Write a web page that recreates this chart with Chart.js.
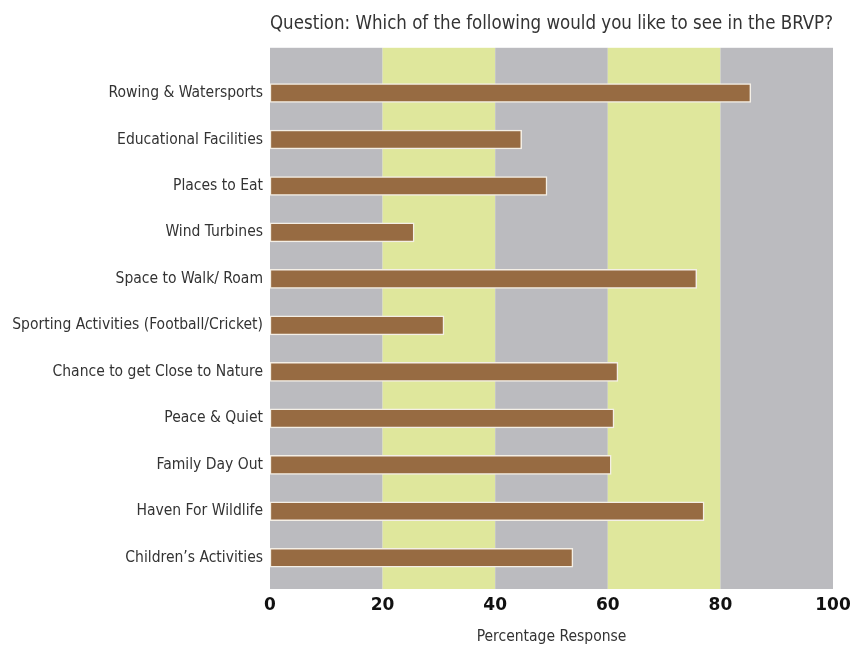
<!DOCTYPE html>
<html>
<head>
<meta charset="utf-8">
<title>BRVP survey</title>
<script src="https://cdn.jsdelivr.net/npm/chart.js@4.4.1/dist/chart.umd.min.js"></script>
<style>
    html, body { margin: 0; padding: 0; background: #ffffff; }
    #wrap { width: 854px; height: 649px; }
</style>
</head>
<body>
<div id="wrap"><canvas id="brvpChart" width="854" height="649"></canvas></div>
<script>
// Survey data
const categories = [
    'Rowing & Watersports',
    'Educational Facilities',
    'Places to Eat',
    'Wind Turbines',
    'Space to Walk/ Roam',
    'Sporting Activities (Football/Cricket)',
    'Chance to get Close to Nature',
    'Peace & Quiet',
    'Family Day Out',
    'Haven For Wildlife',
    'Children\u2019s Activities'
];
const responses = [85.4, 44.7, 49.2, 25.6, 75.8, 30.9, 61.8, 61.1, 60.6, 77.1, 53.8];
const xTicks = [0, 20, 40, 60, 80, 100];

const narrowFont = '"Liberation Sans Narrow", "DejaVu Sans Condensed", sans-serif';

// Alternating grey / green bands behind the bars
const bandPlugin = {
    id: 'bands',
    beforeDatasetsDraw(chart) {
        const ctx = chart.ctx;
        const area = chart.chartArea;
        const x = chart.scales.x;
        const colours = ['#bbbbbf', '#dfe79c'];
        ctx.save();
        for (let i = 0; i < xTicks.length - 1; i++) {
            const left = x.getPixelForValue(xTicks[i]);
            const right = x.getPixelForValue(xTicks[i + 1]);
            ctx.fillStyle = colours[i % 2];
            ctx.fillRect(left, area.top - 22, right - left, area.bottom - area.top + 30);
        }
        ctx.restore();
    }
};

const ctx = document.getElementById('brvpChart').getContext('2d');
new Chart(ctx, {
    type: 'bar',
    data: {
        labels: categories,
        datasets: [{
            data: responses,
            backgroundColor: '#976b42',
            borderColor: '#f4efe6',
            borderWidth: 1.5,
            borderSkipped: false,
            barThickness: 19
        }]
    },
    options: {
        indexAxis: 'y',
        responsive: false,
        animation: false,
        layout: { padding: { left: 0, right: 21, top: 8, bottom: 0 } },
        plugins: {
            legend: { display: false },
            tooltip: { enabled: false },
            title: {
                display: true,
                fullSize: false,
                text: 'Question: Which of the following would you like to see in the BRVP?',
                align: 'center',
                color: '#333333',
                font: { family: narrowFont, size: 19, weight: 'normal' },
                padding: { top: 5, bottom: 34 }
            }
        },
        scales: {
            x: {
                min: 0,
                max: 100,
                afterBuildTicks(scale) {
                    scale.ticks = xTicks.map(v => ({ value: v }));
                },
                afterFit(scale) {
                    scale.height = 68;
                    // let the end labels overhang instead of shrinking the plot
                    scale.paddingLeft = 0;
                    scale.paddingRight = 0;
                },
                grid: { display: false, drawTicks: false },
                border: { display: false },
                ticks: {
                    padding: 14,
                    color: '#111111',
                    font: { family: '"DejaVu Sans", sans-serif', size: 17, weight: 'bold' }
                },
                title: {
                    display: true,
                    text: 'Percentage Response',
                    color: '#333333',
                    padding: { top: 0, bottom: 3 },
                    font: { family: narrowFont, size: 15.5 }
                }
            },
            y: {
                afterFit(scale) { scale.width = 270; },
                grid: { display: false, drawTicks: false },
                border: { display: false },
                ticks: {
                    padding: 7,
                    color: '#333333',
                    font: { family: narrowFont, size: 15.5 }
                }
            }
        }
    },
    plugins: [bandPlugin]
});
</script>
</body>
</html>
